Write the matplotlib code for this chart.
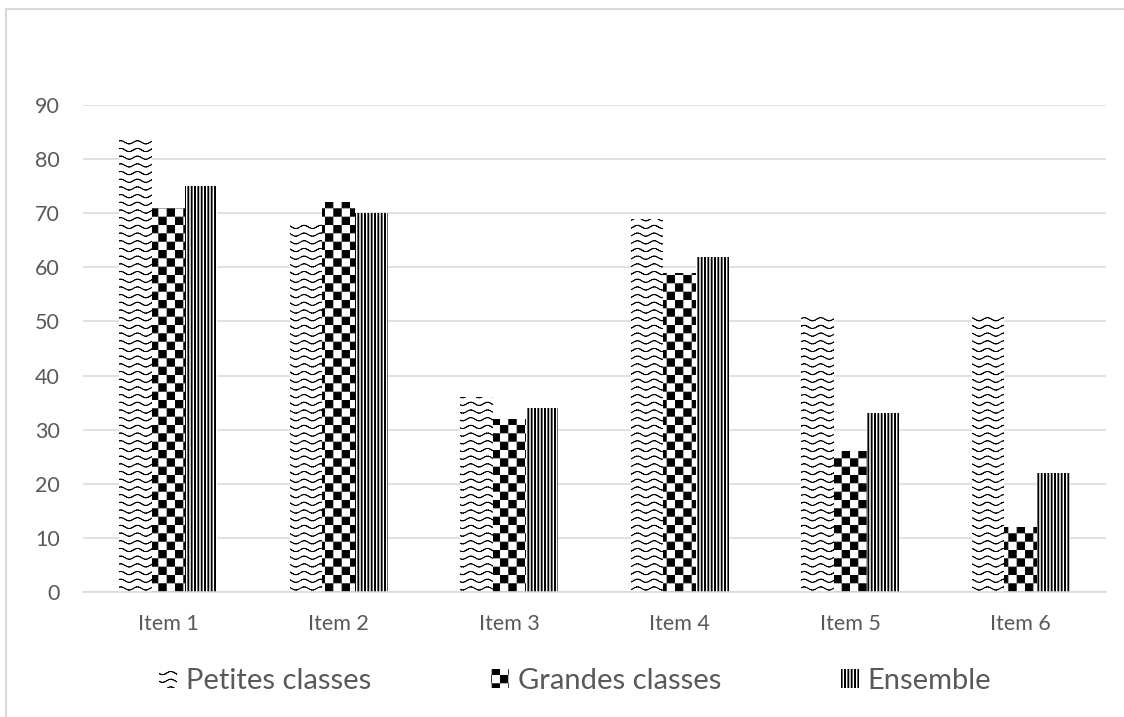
import warnings
import numpy as np
import matplotlib
matplotlib.use("Agg")
import matplotlib.pyplot as plt
from matplotlib import hatch as mhatch
from matplotlib.path import Path
from matplotlib.patches import Rectangle

warnings.filterwarnings("ignore", message=".*hatch must consist.*")

categories = ["Item 1", "Item 2", "Item 3", "Item 4", "Item 5", "Item 6"]
petites = [84, 68, 36, 69, 51, 51]
grandes = [71, 72, 32, 59, 26, 12]
ensemble = [75, 70, 34, 62, 33, 22]
series_names = ["Petites classes", "Grandes classes", "Ensemble"]
yticks = [0, 10, 20, 30, 40, 50, 60, 70, 80, 90]

HATCH_LW = 0.7  # points
HALF_LW = HATCH_LW * 100 / 72 / 2 / 100  # half stroke, in hatch-tile units


# Extra hatch patterns: '~' wavy rows, '#' checkerboard, '!' solid vertical stripes.
class WaveHatch(mhatch.HatchPatternBase):
    rows = 13
    waves = 6
    steps = 10
    amp = 0.016

    def __init__(self, hatch, density):
        self.on = "~" in hatch
        nseg = self.rows * self.waves * self.steps if self.on else 0
        self.num_vertices = nseg * 2

    def set_vertices_and_codes(self, vertices, codes):
        xs = np.linspace(0.0, 1.0, self.waves * self.steps + 1)
        k = 0
        for r in range(self.rows):
            y0 = (r + 0.5) / self.rows
            ys = y0 + self.amp * np.sin(2 * np.pi * self.waves * xs)
            for i in range(len(xs) - 1):
                vertices[k] = (xs[i], ys[i])
                vertices[k + 1] = (xs[i + 1], ys[i + 1])
                codes[k] = Path.MOVETO
                codes[k + 1] = Path.LINETO
                k += 2


class CheckerHatch(mhatch.HatchPatternBase):
    n = 12

    def __init__(self, hatch, density):
        self.on = "#" in hatch
        self.num_vertices = (self.n * self.n // 2) * 5 if self.on else 0

    def set_vertices_and_codes(self, vertices, codes):
        s = 1.0 / self.n
        e = HALF_LW
        k = 0
        for i in range(self.n):
            for j in range(self.n):
                if (i + j) % 2:
                    continue
                x0, y0 = i * s + e, j * s + e
                x1, y1 = (i + 1) * s - e, (j + 1) * s - e
                vertices[k:k + 5] = [(x0, y0), (x1, y0), (x1, y1), (x0, y1), (x0, y0)]
                codes[k] = Path.MOVETO
                codes[k + 1:k + 4] = Path.LINETO
                codes[k + 4] = Path.CLOSEPOLY
                k += 5


class StripeHatch(mhatch.HatchPatternBase):
    n = 30
    width = 0.018  # total stripe width in tile units

    def __init__(self, hatch, density):
        self.on = "!" in hatch
        self.num_vertices = self.n * 5 if self.on else 0

    def set_vertices_and_codes(self, vertices, codes):
        s = 1.0 / self.n
        half = max(self.width / 2 - HALF_LW, 0.0005)
        k = 0
        for i in range(self.n):
            xc = (i + 0.5) * s
            x0, x1 = xc - half, xc + half
            vertices[k:k + 5] = [(x0, -0.1), (x1, -0.1), (x1, 1.1), (x0, 1.1), (x0, -0.1)]
            codes[k] = Path.MOVETO
            codes[k + 1:k + 4] = Path.LINETO
            codes[k + 4] = Path.CLOSEPOLY
            k += 5


mhatch._hatch_types.extend([WaveHatch, CheckerHatch, StripeHatch])

plt.rcParams["font.family"] = ["Lato", "DejaVu Sans"]
plt.rcParams["hatch.linewidth"] = HATCH_LW

text_grey = "#595959"
grid_grey = "#d9d9d9"

fig = plt.figure(figsize=(11.24, 7.17), dpi=100)
ax = fig.add_axes([83 / 1124, 1 - 592 / 717, (1106 - 83) / 1124, (592 - 105) / 717])

x = np.arange(len(categories))
w = 0.192
hatches = ["~", "#", "!"]
for off, vals, name, h in zip([-w, 0, w], [petites, grandes, ensemble], series_names, hatches):
    ax.bar(x + off, vals, width=w, color="white", edgecolor="black",
           linewidth=0, hatch=h, label=name, zorder=3)

ax.set_xlim(-0.5, len(categories) - 0.5)
ax.set_ylim(0, 90)
ax.set_yticks(yticks)
ax.set_xticks(x)
ax.set_xticklabels(categories)
ax.yaxis.grid(True, color=grid_grey, linewidth=1.1, zorder=0)
ax.set_axisbelow(True)
for side in ["top", "right", "left"]:
    ax.spines[side].set_visible(False)
ax.spines["bottom"].set_color(grid_grey)
ax.spines["bottom"].set_linewidth(1.1)
ax.spines["bottom"].set_zorder(4)
ax.tick_params(axis="both", length=0, labelsize=15.5, labelcolor=text_grey)
ax.tick_params(axis="x", pad=16)
ax.tick_params(axis="y", pad=16.5)

leg = fig.legend(loc="center", bbox_to_anchor=(575 / 1124, 1 - 681 / 717), ncol=3,
                 frameon=False, fontsize=21, handlelength=0.62, handleheight=0.62,
                 handletextpad=0.31, columnspacing=4.1, borderpad=0)
for t in leg.get_texts():
    t.set_color(text_grey)

fig.add_artist(Rectangle((5.5 / 1124, -0.05), 1.2, (717 - 8.5) / 717 + 0.05,
                         transform=fig.transFigure, fill=False,
                         edgecolor=grid_grey, linewidth=1.5, clip_on=False))

fig.savefig("out.png", dpi=100)
